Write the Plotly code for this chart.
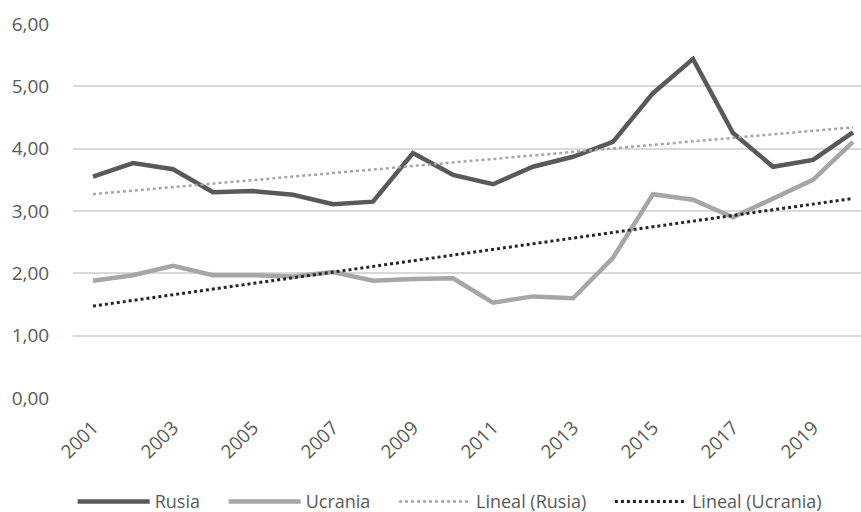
import numpy as np
import plotly.graph_objects as go

years = list(range(2001, 2021))
rusia = [3.55, 3.77, 3.67, 3.30, 3.32, 3.26, 3.11, 3.15, 3.93, 3.58,
         3.43, 3.71, 3.87, 4.11, 4.89, 5.44, 4.25, 3.71, 3.82, 4.26]
ucrania = [1.88, 1.97, 2.12, 1.97, 1.97, 1.95, 2.02, 1.88, 1.91, 1.92,
           1.53, 1.63, 1.60, 2.25, 3.27, 3.18, 2.90, 3.20, 3.50, 4.11]
y_ticks = [0, 1, 2, 3, 4, 5, 6]
y_labels = ["0,00", "1,00", "2,00", "3,00", "4,00", "5,00", "6,00"]
x_ticks = list(range(2001, 2021, 2))

x = np.array(years, dtype=float)
tr_r = np.polyval(np.polyfit(x, rusia, 1), x)
tr_u = np.polyval(np.polyfit(x, ucrania, 1), x)

FONT = "Open Sans"
TXT = "#595959"
PAD = "\u00a0" * 4  # spacing between legend entries

fig = go.Figure()
fig.add_trace(go.Scatter(x=years, y=rusia, mode="lines", name="Rusia" + PAD,
                         line=dict(color="#595959", width=4.5)))
fig.add_trace(go.Scatter(x=years, y=ucrania, mode="lines", name="Ucrania" + PAD,
                         line=dict(color="#a6a6a6", width=4.5)))
fig.add_trace(go.Scatter(x=years, y=tr_r, mode="lines", name="Lineal (Rusia)" + PAD,
                         line=dict(color="#a6a6a6", width=2.5, dash="dot")))
fig.add_trace(go.Scatter(x=years, y=tr_u, mode="lines", name="Lineal (Ucrania)",
                         line=dict(color="#262626", width=3, dash="dot")))

fig.update_layout(
    width=861, height=512,
    margin=dict(l=73, r=0, t=24, b=114),
    paper_bgcolor="white", plot_bgcolor="white",
    font=dict(family=FONT, color=TXT, size=19),
    xaxis=dict(range=[2000.5, 2020.2], tickmode="array", tickvals=x_ticks,
               ticktext=[str(v) for v in x_ticks], tickangle=-45,
               showgrid=False, zeroline=False, showline=False,
               ticks="outside", ticklen=10, tickcolor="rgba(0,0,0,0)",
               automargin=False, tickfont=dict(size=19, color=TXT)),
    yaxis=dict(range=[0, 6], tickmode="array", tickvals=y_ticks,
               ticktext=y_labels, showgrid=True, gridcolor="#d9d9d9",
               gridwidth=1.5, zeroline=False, showline=False,
               ticks="outside", ticklen=19, tickcolor="rgba(0,0,0,0)",
               automargin=False, tickfont=dict(size=19, color=TXT)),
    legend=dict(orientation="h", x=0.478, xanchor="center",
                yref="container", y=0.02, yanchor="middle",
                font=dict(size=18, color=TXT),
                itemwidth=72, bgcolor="rgba(0,0,0,0)"),
    showlegend=True,
)

fig.write_html("out.html")
